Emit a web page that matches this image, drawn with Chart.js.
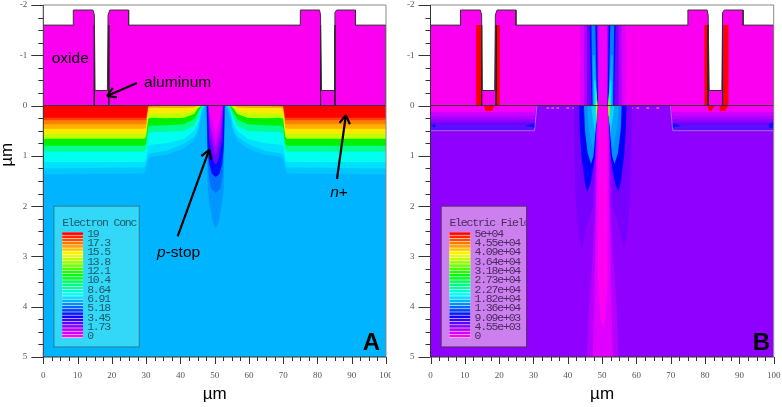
<!DOCTYPE html>
<html>
<head>
    <meta charset="utf-8" />
    <title>Electron concentration and electric field</title>
    <script src="https://cdn.jsdelivr.net/npm/chart.js"></script>
    <style>
        html, body { margin: 0; padding: 0; background: #fff; }
        canvas { position: absolute; top: 0; filter: blur(0.4px); }
        #panelA { left: 0; }
        #panelB { left: 391px; }
    </style>
</head>
<body>
    <canvas id="panelA" width="391" height="407"></canvas>
    <canvas id="panelB" width="391" height="407"></canvas>
    <script>
        // axes
        const xRange = [0, 100];
        const yRange = [-2, 5];
        const xTickStep = 2.5;
        const yTickStep = 0.25;

        // legends
        const legendTitleA = 'Electron Conc';
        const legendLabelsA = ['19', '17.3', '15.5', '13.8', '12.1', '10.4', '8.64', '6.91', '5.18', '3.45', '1.73', '0'];
        const legendTitleB = 'Electric Field';
        const legendLabelsB = ['5e+04', '4.55e+04', '4.09e+04', '3.64e+04', '3.18e+04', '2.73e+04', '2.27e+04', '1.82e+04', '1.36e+04', '9.09e+03', '4.55e+03', '0'];

        // oxide + aluminum outline, um
        const oxideOutline = [[0, -1.6], [8.75, -1.6], [8.75, -1.9], [14.5, -1.9], [14.9, -1.8], [15.1, -0.3], [18.7, -0.3], [18.9, -1.8], [19.4, -1.9], [24.9, -1.9], [24.9, -1.6],
            [75, -1.6], [75, -1.9], [80.6, -1.9], [80.9, -1.8], [81.2, -0.3], [84.9, -0.3], [85.1, -1.85], [85.6, -1.9], [91.1, -1.9], [91.1, -1.6], [100, -1.6], [100, 0], [0, 0]];
        const viaWallsX = [14.9, 19.1, 80.9, 85.1];

        // panel A: lower edge of each contour band along the half profile
        const contourX = [0, 29.5, 30, 30.6, 31.5, 36, 41, 44, 45.2, 46.2, 47.2];
        const bandPale = [1.37, 1.35, 1.25, 1.06, 1.02, 0.98, 0.85, 0.7, 0.52, 0.2, 0];
        const bandSky = [1.25, 1.23, 1.15, 0.98, 0.95, 0.9, 0.76, 0.62, 0.45, 0.1, 0];
        const bandCyan = [1.12, 1.12, 1.05, 0.8, 0.78, 0.75, 0.66, 0.5, 0.33, 0.05, 0];
        const bandTeal = [0.92, 0.92, 0.87, 0.56, 0.53, 0.52, 0.5, 0.4, 0.23, 0.02, 0];
        const bandGreen = [0.8, 0.8, 0.76, 0.42, 0.4, 0.39, 0.37, 0.27, 0.13, 0, 0];
        const bandLime = [0.66, 0.66, 0.62, 0.26, 0.24, 0.25, 0.24, 0.17, 0.05, 0, 0];
        const bandYellow = [0.56, 0.56, 0.52, 0.17, 0.16, 0.16, 0.155, 0.1, 0.01, 0, 0];
        const bandAmber = [0.46, 0.46, 0.44, 0.06, 0.05, 0.05, 0.05, 0.04, 0, 0, 0];
        const bandOrange = [0.37, 0.37, 0.37, 0.03, 0.02, 0.01, 0.01, 0.01, 0, 0, 0];
        const bandVermilion = [0.29, 0.29, 0.29, 0.02, 0, 0, 0, 0, 0, 0, 0];
        const bandRed = [0.24, 0.24, 0.24, 0, 0, 0, 0, 0, 0, 0, 0];

        // panel A: p-stop, left half of each contour
        const pstop1 = [[47.5, 0], [47.8, 1], [48, 1.68], [48.6, 2], [49.4, 2.3], [50.3, 2.45]];
        const pstop2 = [[47.6, 0], [48, 1], [48.3, 1.4], [48.9, 1.65], [50.3, 1.74]];
        const pstop3 = [[47.7, 0], [47.9, 0.8], [48.4, 1.15], [49.2, 1.36], [50.3, 1.42]];
        const pstop4 = [[48, 0], [48.4, 0.7], [49.6, 1.1], [50.3, 1.18]];
        const pstop5 = [[48.1, 0], [48.7, 0.6], [50.3, 1]];
        const pstop6 = [[48.2, 0], [48.9, 0.45], [50.3, 0.82]];
        const pstop7 = [[48.3, 0], [48.8, 0.2], [50.3, 0.58]];

        // panel B: band depths under the n+ regions, deepest first
        const fieldBandDepth = [0.5, 0.38, 0.33, 0.27, 0.2, 0.13, 0.07];
        const surfaceDashX = [34.2, 35.6, 37.1, 40, 41.7, 58.5, 60.4, 63.3, 66.2];

        // panel B: left lobes in the silicon
        const lobeFaint = [[41.7, 0], [41.9, 1], [42.4, 2], [43.2, 2.6], [44, 2.87], [45, 2.55], [46.5, 2.2], [47.3, 2], [47.9, 1], [48.3, 0]];
        const lobeBlue = [[43.3, 0], [43.5, 0.5], [44, 1.02], [45, 1.55], [45.7, 1.72], [46.6, 1.55], [47.4, 1.25], [47.9, 1], [48.4, 0.3], [48.7, 0]];
        const lobeAzure = [[44.7, 0], [45, 0.5], [45.8, 0.95], [46.8, 1.16], [47.5, 1], [47.9, 0.7], [48.4, 0.2], [48.6, 0]];
        const lobeSky = [[45.6, 0], [46, 0.4], [47.2, 0.85], [47.9, 0.6], [48.6, 0]];
        const lobeCyan = [[46.8, 0], [47.4, 0.3], [47.9, 0.55], [48.2, 0.3], [48.6, 0]];
        const lobeGreen = [[48.3, -0.3], [48, 0], [48.05, 0.1], [48.3, 0.4], [48.6, 0.1], [48.65, 0]];
        const lobeYellow = [[48.35, -0.12], [48.2, 0], [48.25, 0.1], [48.4, 0.2], [48.55, 0.05], [48.55, 0]];

        // panel B: centre column, left edge
        const columnOuter = [[48.4, 0], [48, 2], [47.2, 3], [46, 4.2], [45.6, 5]];
        const columnMiddle = [[48.6, 0], [48.2, 2], [47.8, 3.5], [47.3, 5]];
        const columnCore = [[48.9, 0], [48.7, 2], [48.8, 3.5], [49.6, 4.26], [50.2, 4.4]];

        // panel B: field inside the oxide
        const oxideFade1 = [[43.6, -1.6], [56.8, -1.6], [56.8, 0], [43.6, 0]];
        const oxideFade2 = [[44.7, -1.6], [55.7, -1.6], [55.7, 0], [44.7, 0]];
        const oxideFade3 = [[45.6, -1.6], [54.8, -1.6], [54.8, 0], [45.6, 0]];
        const oxideCentre1 = [[48.5, -1.6], [52, -1.6], [52, 0], [48.5, 0]];
        const oxideCentre2 = [[48.9, -1.6], [51.5, -1.6], [51.5, 0], [48.9, 0]];
        const oxideBlue = [[46.4, -1.6], [48.5, -1.6], [48.8, 0], [46.9, 0]];
        const oxideAzure = [[46.9, -1.6], [48, -1.6], [48.5, 0], [47.2, 0]];
        const oxideSky = [[47.3, -1], [47.8, -1], [48.6, 0], [47.4, 0]];
        const oxideCyan = [[47.7, -0.5], [48, -0.5], [48.7, 0], [47.8, 0]];

        // panel B: high field spots at the contacts
        const redWalls = [
            [[13.3, -1.6], [14.7, -1.6], [14.8, 0], [13.3, 0]],
            [[19.1, -1.6], [20.2, -1.6], [20.2, 0], [19.1, 0]],
            [[79.8, -1.6], [80.8, -1.6], [80.9, 0], [79.8, 0]],
            [[85.4, -1.6], [86.8, -1.6], [86.8, 0], [85.3, 0]]
        ];
        const redSpots = [
            [[15.6, 0], [18.6, 0], [18, 0.11], [16, 0.11]],
            [[80.8, 0], [82.9, 0], [81.8, 0.11], [81, 0.11]],
            [[84.3, 0], [86.8, 0], [85.8, 0.11], [84.2, 0.11]]
        ];
        const edgeArrows = [
            [[0, 0.4], [1.4, 0.36], [1.4, 0.44]],
            [[27.4, 0.4], [30.3, 0.35], [30.3, 0.44]],
            [[73, 0.4], [70.6, 0.35], [70.6, 0.44]],
            [[98.6, 0.36], [100, 0.33], [100, 0.45], [98.6, 0.44]]
        ];
        const edgeLines = [[31, 0], [30.3, 0.5], [0, 0.5], [NaN, NaN], [69.9, 0], [70.6, 0.5], [100, 0.5]];

        // annotations, um
        const arrowsA = [
            [[27.3, -0.447], [18.6, -0.19]],
            [[85.7, 1.46], [88.3, 0.19]],
            [[39.2, 2.6], [48.4, 0.88]]
        ];
        const notesA = [
            { x: 2.45, y: -0.94, runs: [['oxide', false]] },
            { x: 29.4, y: -0.45, runs: [['aluminum', false]] },
            { x: 83.7, y: 1.74, runs: [['n', true], ['+', false]] },
            { x: 33.2, y: 2.93, runs: [['p', true], ['-stop', false]] }
        ];

        function toPoints(pairs) {
            return pairs.map(p => ({ x: p[0], y: p[1] }));
        }
        function mirrorX(pairs, axis) {
            return pairs.map(p => [2 * axis - p[0], p[1]]);
        }
        function closeHalf(half, axis) {
            return half.concat(mirrorX(half, axis).reverse());
        }
        function fillLayer(pairs, color) {
            return { data: toPoints(pairs), backgroundColor: color, fill: 'shape', showLine: true, borderWidth: 0, pointRadius: 0 };
        }
        function lineLayer(pairs, color, width) {
            return { data: toPoints(pairs), borderColor: color, borderWidth: width, fill: false, showLine: true, pointRadius: 0 };
        }
        function profile(depths) {
            const half = contourX.map((x, i) => [x, depths[i]]);
            return [[0, 0]].concat(closeHalf(half, 50.3), [[100.6, 0]]);
        }
        function wallLines() {
            const pts = [];
            viaWallsX.forEach(x => { pts.push([x, -1.6], [x, 0], [NaN, NaN]); });
            return pts;
        }

        const siliconRect = [[0, 0], [100, 0], [100, 5], [0, 5]];
        const magenta = '#fb00f0';

        function layersA() {
            return [
                fillLayer(siliconRect, '#00b4ff'),
                fillLayer(profile(bandPale), '#00c8ff'),
                fillLayer(profile(bandSky), '#00e0ff'),
                fillLayer(profile(bandCyan), '#00fff0'),
                fillLayer(profile(bandTeal), '#00ff90'),
                fillLayer(profile(bandGreen), '#00f000'),
                fillLayer(profile(bandLime), '#c0ff00'),
                fillLayer(profile(bandYellow), '#ffe800'),
                fillLayer(profile(bandAmber), '#ffb000'),
                fillLayer(profile(bandOrange), '#ff8000'),
                fillLayer(profile(bandVermilion), '#ff4000'),
                fillLayer(profile(bandRed), '#ff0000'),
                fillLayer(closeHalf(pstop1, 50.3), '#0098ff'),
                fillLayer(closeHalf(pstop2, 50.3), '#0070ff'),
                fillLayer(closeHalf(pstop3, 50.3), '#0010ff'),
                fillLayer(closeHalf(pstop4, 50.3), '#7000ff'),
                fillLayer(closeHalf(pstop5, 50.3), '#a800ff'),
                fillLayer(closeHalf(pstop6, 50.3), '#d800ff'),
                fillLayer(closeHalf(pstop7, 50.3), magenta),
                fillLayer(oxideOutline, magenta),
                lineLayer(wallLines(), '#222', 1),
                lineLayer(oxideOutline, '#333', 1)
            ];
        }

        function layersB() {
            const both = (pairs, color) => [fillLayer(pairs, color), fillLayer(mirrorX(pairs, 50.2), color)];
            const bandColors = ['#5a10ff', '#7000ff', '#9000ff', '#b000ff', '#d000ff', '#f000ff', magenta];
            const layers = [fillLayer(siliconRect, '#9000ff')];
            fieldBandDepth.forEach((d, i) => {
                const left = [[0, 0], [0, d], [30.3, d], [30.9, 0]];
                layers.push(fillLayer(left, bandColors[i]), fillLayer(mirrorX(left, 50.4), bandColors[i]));
            });
            layers.push(lineLayer(edgeLines, '#b060ff', 1));
            edgeArrows.forEach(a => layers.push(fillLayer(a, '#1010ff')));
            const dashes = [];
            surfaceDashX.forEach(x => dashes.push([x - 0.4, 0.05], [x + 0.4, 0.05], [NaN, NaN]));
            layers.push(lineLayer(dashes, '#e040ff', 2));
            layers.push(
                ...both(lobeFaint, '#7800ff'),
                fillLayer(closeHalf(columnOuter, 50.2), '#b400ff'),
                fillLayer(closeHalf(columnMiddle, 50.2), '#e000ff'),
                fillLayer(closeHalf(columnCore, 50.2), '#ff00f0'),
                ...both(lobeBlue, '#0000ff'),
                ...both(lobeAzure, '#0090ff'),
                ...both(lobeSky, '#00a8ff'),
                ...both(lobeCyan, '#00d8ff')
            );
            redSpots.forEach(s => layers.push(fillLayer(s, '#ff0000')));
            layers.push(
                fillLayer(oxideOutline, magenta),
                fillLayer(oxideFade1, '#e000ff'),
                fillLayer(oxideFade2, '#b000ff'),
                fillLayer(oxideFade3, '#7000ff'),
                fillLayer(oxideCentre1, '#a000ff'),
                fillLayer(oxideCentre2, '#f000ff'),
                ...both(oxideBlue, '#0010ff'),
                ...both(oxideAzure, '#0080ff'),
                ...both(oxideSky, '#00b0ff'),
                ...both(oxideCyan, '#00f0e0'),
                ...both(lobeGreen, '#40ff40'),
                ...both(lobeYellow, '#ffe000')
            );
            redWalls.forEach(w => layers.push(fillLayer(w, '#ff0000')));
            layers.push(lineLayer(wallLines(), '#222', 1), lineLayer(oxideOutline, '#333', 1));
            return layers;
        }

        // frame, tick marks, legend box and labels go on top of the contours
        const panelDecor = {
            id: 'panelDecor',
            afterDatasetsDraw(chart, args, opts) {
                const ctx = chart.ctx;
                const { x: xs, y: ys } = chart.scales;
                const px = v => xs.getPixelForValue(v);
                const py = v => ys.getPixelForValue(v);
                const area = chart.chartArea;
                ctx.save();

                // frame
                ctx.strokeStyle = '#888';
                ctx.lineWidth = 1;
                ctx.beginPath();
                ctx.moveTo(area.left, area.top);
                ctx.lineTo(area.right, area.top);
                ctx.lineTo(area.right, area.bottom);
                ctx.stroke();

                // tick marks
                ctx.strokeStyle = '#333';
                ctx.beginPath();
                ctx.moveTo(area.left, area.top);
                ctx.lineTo(area.left, area.bottom);
                ctx.lineTo(area.right, area.bottom);
                ys.ticks.forEach(t => {
                    const len = Number.isInteger(t.value) ? 12 : 5;
                    const y = Math.round(py(t.value)) + 0.5;
                    ctx.moveTo(area.left - len, y);
                    ctx.lineTo(area.left, y);
                });
                xs.ticks.forEach(t => {
                    const len = t.value % 10 === 0 ? 7 : 4;
                    const x = Math.round(px(t.value)) + 0.5;
                    ctx.moveTo(x, area.bottom);
                    ctx.lineTo(x, area.bottom + len);
                });
                ctx.stroke();

                // legend box
                const bx = px(3.1), by = py(2), bw = px(28) - px(3.1), bh = py(4.8) - py(2);
                ctx.fillStyle = opts.legendFill;
                ctx.strokeStyle = opts.legendBorder;
                ctx.lineWidth = 1;
                ctx.fillRect(bx, by, bw, bh);
                ctx.strokeRect(bx, by, bw, bh);

                const sx = px(5.5), sw = px(11.6) - px(5.5), sTop = py(2.52), sBottom = py(4.62);
                const rows = 33;
                const rowH = (sBottom - sTop) / rows;
                ctx.fillStyle = '#fff';
                ctx.fillRect(sx, sTop, sw, sBottom - sTop);
                for (let i = 0; i < rows; i++) {
                    ctx.fillStyle = `hsl(${300 * i / (rows - 1)}, 100%, 50%)`;
                    ctx.fillRect(sx, sTop + i * rowH, sw, rowH - 0.6);
                }

                // tall narrow glyphs like the original plot font
                ctx.fillStyle = opts.legendText;
                ctx.font = '11.5px "Liberation Mono"';
                ctx.letterSpacing = '-1.2px';
                ctx.textBaseline = 'middle';
                ctx.save();
                ctx.beginPath();
                ctx.rect(bx, by, bw - 1, bh);
                ctx.clip();
                ctx.fillText(opts.legendTitle, sx, py(2.33));
                ctx.restore();
                opts.legendLabels.forEach((label, i) => {
                    const y = py(2.55) + i * (py(4.59) - py(2.55)) / (opts.legendLabels.length - 1);
                    ctx.fillText(label, px(12.8), y);
                });
                ctx.letterSpacing = '0px';

                // arrows
                ctx.strokeStyle = '#000';
                ctx.lineWidth = 2.2;
                ctx.lineCap = 'butt';
                (opts.arrows || []).forEach(a => {
                    const x0 = px(a[0][0]), y0 = py(a[0][1]), x1 = px(a[1][0]), y1 = py(a[1][1]);
                    const ang = Math.atan2(y1 - y0, x1 - x0);
                    ctx.beginPath();
                    ctx.moveTo(x0, y0);
                    ctx.lineTo(x1, y1);
                    [-0.55, 0.55].forEach(d => {
                        ctx.moveTo(x1, y1);
                        ctx.lineTo(x1 - 10 * Math.cos(ang + d), y1 - 10 * Math.sin(ang + d));
                    });
                    ctx.stroke();
                });

                // notes
                ctx.fillStyle = '#000';
                (opts.notes || []).forEach(n => {
                    let x = px(n.x);
                    n.runs.forEach(r => {
                        ctx.font = `${r[1] ? 'italic ' : ''}15.5px "Liberation Sans"`;
                        ctx.fillText(r[0], x, py(n.y));
                        x += ctx.measureText(r[0]).width;
                    });
                });

                // panel letter
                ctx.font = 'bold 24px "Liberation Sans"';
                ctx.fillText(opts.letter, px(opts.letterX), py(4.73));

                // y axis title sits above the middle of the axis in the original
                if (opts.yTitle) {
                    ctx.font = '17px "Liberation Sans"';
                    ctx.translate(7.5, py(0.98));
                    ctx.rotate(-Math.PI / 2);
                    ctx.textAlign = 'center';
                    ctx.fillText(opts.yTitle, 0, 0);
                }
                ctx.restore();
            }
        };

        function makePanel(id, layers, yWidth, rightPad, decor) {
            new Chart(document.getElementById(id), {
                type: 'scatter',
                data: { datasets: layers.slice().reverse() },
                plugins: [panelDecor],
                options: {
                    responsive: false,
                    animation: false,
                    events: [],
                    layout: { padding: { top: 5, right: rightPad, bottom: 0, left: 0 } },
                    plugins: { legend: { display: false }, tooltip: { enabled: false }, panelDecor: decor },
                    scales: {
                        x: {
                            type: 'linear',
                            min: xRange[0],
                            max: xRange[1],
                            afterFit: s => { s.height = 50; s.paddingLeft = 0; s.paddingRight = 0; },
                            grid: { display: false },
                            border: { display: false },
                            title: { display: true, text: 'µm', color: '#000', padding: { top: 0, bottom: 2 }, font: { family: 'Liberation Sans', size: 17 } },
                            ticks: {
                                stepSize: xTickStep,
                                autoSkip: false,
                                maxRotation: 0,
                                padding: 5,
                                color: '#555',
                                font: { family: 'Liberation Serif', size: 9 },
                                callback: v => (v % 10 === 0 ? String(v) : '')
                            }
                        },
                        y: {
                            type: 'linear',
                            min: yRange[0],
                            max: yRange[1],
                            reverse: true,
                            afterFit: s => { s.width = yWidth; s.paddingTop = 0; s.paddingBottom = 0; },
                            grid: { display: false },
                            border: { display: false },
                            ticks: {
                                stepSize: yTickStep,
                                autoSkip: false,
                                padding: 8,
                                color: '#555',
                                font: { family: 'Liberation Serif', size: 9 },
                                callback: v => (Number.isInteger(v) ? String(v) : '')
                            }
                        }
                    }
                }
            });
        }

        makePanel('panelA', layersA(), 43.3, 5, {
            legendFill: '#33d8f8', legendBorder: '#2a7f90', legendText: '#1c5a68',
            legendTitle: legendTitleA, legendLabels: legendLabelsA,
            arrows: arrowsA, notes: notesA, letter: 'A', letterX: 93.2, yTitle: 'µm'
        });
        makePanel('panelB', layersB(), 39.5, 8.3, {
            legendFill: '#cc80ee', legendBorder: '#553366', legendText: '#4a2a60',
            legendTitle: legendTitleB, legendLabels: legendLabelsB,
            letter: 'B', letterX: 93.9
        });
    </script>
</body>
</html>
